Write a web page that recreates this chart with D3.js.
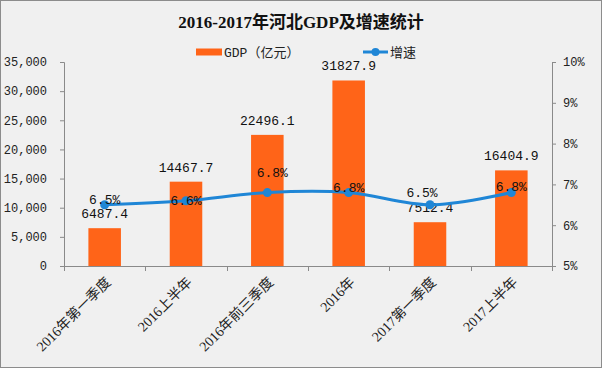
<!DOCTYPE html>
<html>
<head>
<meta charset="utf-8">
<script src="https://cdn.jsdelivr.net/npm/d3@7"></script>
<style>
    body { margin: 0; background: #fff; }
    svg { display: block; }
</style>
</head>
<body>
<svg id="chart"></svg>
<script>

const categories = ['2016年第一季度', '2016上半年', '2016年前三季度', '2016年', '2017第一季度', '2017上半年']
const gdp = [6487.4, 14467.7, 22496.1, 31827.9, 7512.4, 16404.9]
const growth = [6.5, 6.6, 6.8, 6.8, 6.5, 6.8]
const leftTicks = [0, 5000, 10000, 15000, 20000, 25000, 30000, 35000]
const rightTicks = [5, 6, 7, 8, 9, 10]

// label nudges, copied by eye from the excel output
const growthLabelDx = [0, 0, 5, 0, -8, 0]
const growthLabelDy = [-5, 0, -20, -5, -12, -6]

const W = 602, H = 368
const plotLeft = 64, plotRight = 552, plotTop = 62, plotBottom = 266

const orange = '#ff6418'
const blue = '#1f86d6'
const axisGray = '#8a8a8a'
const monoFont = '"Liberation Mono", "Noto Sans CJK SC", monospace'

const svg = d3.select('#chart')
    .attr('width', W)
    .attr('height', H)

svg.append('rect')
    .attr('x', 0.5).attr('y', 0.5)
    .attr('width', W - 1).attr('height', H - 1)
    .attr('fill', '#f0f0f0')
    .attr('stroke', '#8c8c8c')

const x = d3.scaleBand()
    .domain(categories)
    .range([plotLeft, plotRight])
    .paddingInner(0.6)
    .paddingOuter(0.3)

const yGdp = d3.scaleLinear()
    .domain([0, 35000])
    .range([plotBottom, plotTop])

const yPct = d3.scaleLinear()
    .domain([5, 10])
    .range([plotBottom, plotTop])

const cx = d => x(d) + x.bandwidth() / 2

// title
svg.append('text')
    .attr('x', W / 2)
    .attr('y', 28)
    .attr('text-anchor', 'middle')
    .style('font-family', '"Liberation Serif", "Noto Sans CJK SC", serif')
    .style('font-weight', 'bold')
    .style('font-size', '17px')
    .style('fill', '#111')
    .text('2016-2017年河北GDP及增速统计')

// legend
const legend = svg.append('g').style('font-family', monoFont).style('font-size', '13px')
legend.append('rect')
    .attr('x', 196).attr('y', 48.5)
    .attr('width', 26).attr('height', 7)
    .attr('fill', orange)
legend.append('text')
    .attr('x', 224).attr('y', 56.5)
    .style('fill', '#222')
    .text('GDP（亿元）')
legend.append('line')
    .attr('x1', 363).attr('x2', 388)
    .attr('y1', 52).attr('y2', 52)
    .attr('stroke', blue)
    .attr('stroke-width', 3)
legend.append('circle')
    .attr('cx', 375.5).attr('cy', 52).attr('r', 4)
    .attr('fill', blue)
legend.append('text')
    .attr('x', 390).attr('y', 56.5)
    .style('fill', '#222')
    .text('增速')

// axes
const yAxisL = d3.axisLeft(yGdp)
    .tickValues(leftTicks)
    .tickSize(4)
    .tickPadding(13)
    .tickFormat(d3.format(','))

const yAxisR = d3.axisRight(yPct)
    .tickValues(rightTicks)
    .tickSize(4)
    .tickPadding(7)
    .tickFormat(d => d + '%')

const gL = svg.append('g')
    .attr('transform', `translate(${plotLeft}, 0)`)
    .call(yAxisL)
const gR = svg.append('g')
    .attr('transform', `translate(${plotRight}, 0)`)
    .call(yAxisR)

;[gL, gR].forEach(g => {
    g.select('.domain').attr('stroke', axisGray)
    g.selectAll('.tick line').attr('stroke', axisGray)
    g.selectAll('.tick text')
        .style('font-family', monoFont)
        .style('font-size', '12px')
        .style('fill', '#222')
})

// x axis: ticks sit on the band edges
const xAxisG = svg.append('g')
xAxisG.append('line')
    .attr('x1', plotLeft).attr('x2', plotRight)
    .attr('y1', plotBottom + 0.5).attr('y2', plotBottom + 0.5)
    .attr('stroke', axisGray)
xAxisG.selectAll('.xtick')
    .data(d3.range(categories.length + 1))
    .enter().append('line')
    .attr('class', 'xtick')
    .attr('x1', i => Math.round(plotLeft + i * x.step()) + 0.5)
    .attr('x2', i => Math.round(plotLeft + i * x.step()) + 0.5)
    .attr('y1', plotBottom)
    .attr('y2', plotBottom + 5)
    .attr('stroke', axisGray)

xAxisG.selectAll('.xlabel')
    .data(categories)
    .enter().append('text')
    .attr('class', 'xlabel')
    .attr('transform', d => `translate(${cx(d) + 7}, ${plotBottom + 17}) rotate(-45)`)
    .attr('text-anchor', 'end')
    .style('font-family', '"Liberation Serif", "Noto Sans CJK SC", serif')
    .style('font-size', '14px')
    .style('fill', '#222')
    .text(d => d)

// bars
svg.append('g')
    .selectAll('rect')
    .data(gdp)
    .enter().append('rect')
    .attr('x', (d, i) => x(categories[i]))
    .attr('y', d => yGdp(d))
    .attr('width', x.bandwidth())
    .attr('height', d => plotBottom - yGdp(d))
    .attr('fill', orange)

svg.append('g')
    .selectAll('text')
    .data(gdp)
    .enter().append('text')
    .attr('x', (d, i) => cx(categories[i]))
    .attr('y', d => yGdp(d) - 10)
    .attr('text-anchor', 'middle')
    .style('font-family', monoFont)
    .style('font-size', '13px')
    .style('fill', '#111')
    .text(d => d3.format('.1f')(d))

// growth line
const line = d3.line()
    .x((d, i) => cx(categories[i]))
    .y(d => yPct(d))
    .curve(d3.curveCatmullRom.alpha(0.5))

svg.append('path')
    .datum(growth)
    .attr('d', line)
    .attr('fill', 'none')
    .attr('stroke', blue)
    .attr('stroke-width', 3)

svg.append('g')
    .selectAll('circle')
    .data(growth)
    .enter().append('circle')
    .attr('cx', (d, i) => cx(categories[i]))
    .attr('cy', d => yPct(d))
    .attr('r', 4.5)
    .attr('fill', blue)

svg.append('g')
    .selectAll('text')
    .data(growth)
    .enter().append('text')
    .attr('x', (d, i) => cx(categories[i]) + growthLabelDx[i])
    .attr('y', (d, i) => yPct(d) + growthLabelDy[i])
    .attr('dy', '0.35em')
    .attr('text-anchor', 'middle')
    .style('font-family', monoFont)
    .style('font-size', '13px')
    .style('fill', '#111')
    .text(d => d.toFixed(1) + '%')

</script>
</body>
</html>
